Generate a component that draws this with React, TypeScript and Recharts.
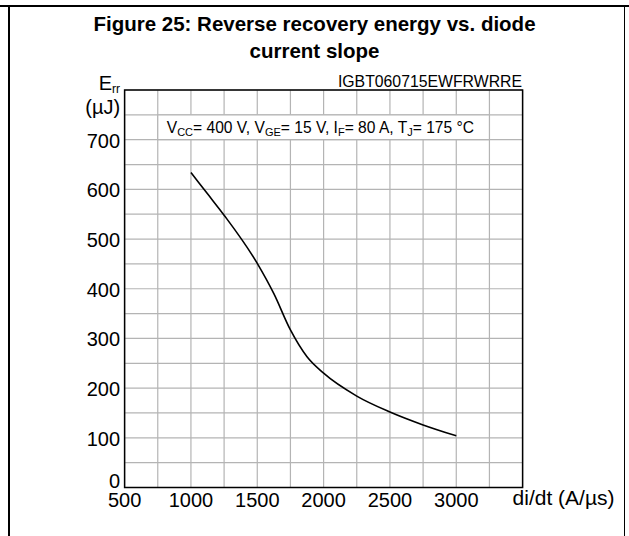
import { LineChart, Line, XAxis, YAxis, CartesianGrid, ReferenceArea } from 'recharts';

// di/dt (A/µs) and Err (µJ)
const diDt = [1000, 1125, 1250, 1500, 1625, 1750, 1875, 2000, 2250, 2500, 2750, 3000];
const eRr = [634, 591, 548, 451, 390, 317, 263, 230, 184, 152, 126, 104];

const xTicks = [500, 750, 1000, 1250, 1500, 1750, 2000, 2250, 2500, 2750, 3000, 3250, 3500];
const yTicks = [0, 50, 100, 150, 200, 250, 300, 350, 400, 450, 500, 550, 600, 650, 700, 750, 800];
const xLabels = [500, 1000, 1500, 2000, 2500, 3000];
const yLabels = [0, 100, 200, 300, 400, 500, 600, 700];

const FONT = '"Liberation Sans", Arial, Helvetica, sans-serif';
const GRID = '#b4b4b4';

const data = diDt.map((d, i) => ({ d, e: eRr[i] }));

function XTick(props: any) {
  const { x, y, payload } = props;
  const v = payload.value;
  if (v === 3500) {
    return (
      <text x={x - 10} y={y + 2} textAnchor="start" dominantBaseline="central" fontSize={21} fontFamily={FONT} fill="#000">
        di/dt (A/µs)
      </text>
    );
  }
  if (!xLabels.includes(v)) return <g />;
  return (
    <text x={x} y={y + 4} textAnchor="middle" dominantBaseline="central" fontSize={20} fontFamily={FONT} fill="#000">
      {v}
    </text>
  );
}

function YTick(props: any) {
  const { x, y, payload } = props;
  const v = payload.value;
  if (v === 800) {
    return (
      <g fontFamily={FONT} fill="#000">
        <text x={x + 3.5} y={y} textAnchor="end" fontSize={20}>
          E<tspan fontSize={12} dy={3}>rr</tspan>
        </text>
        <text x={x + 3.5} y={y + 17} textAnchor="end" dominantBaseline="central" fontSize={20}>
          (µJ)
        </text>
      </g>
    );
  }
  if (!yLabels.includes(v)) return <g />;
  return (
    <text x={x + 3.5} y={v === 0 ? y - 7 : y + 1} textAnchor="end" dominantBaseline="central" fontSize={20} fontFamily={FONT} fill="#000">
      {v}
    </text>
  );
}

function Note(props: any) {
  const { x, y, height } = props.viewBox;
  return (
    <text x={x + 9} y={y + height / 2 + 5.5} fontSize={15.6} fontFamily={FONT} fill="#000">
      V<tspan fontSize={11} dy={3}>CC</tspan>
      <tspan dy={-3}>= 400 V, V</tspan>
      <tspan fontSize={11} dy={3}>GE</tspan>
      <tspan dy={-3}>= 15 V, I</tspan>
      <tspan fontSize={11} dy={3}>F</tspan>
      <tspan dy={-3}>= 80 A, T</tspan>
      <tspan fontSize={11} dy={3}>J</tspan>
      <tspan dy={-3}>= 175 °C</tspan>
    </text>
  );
}

export default function App() {
  return (
    <div style={{ position: 'absolute', left: 0, top: 0, width: 629, height: 536, background: '#fff', overflow: 'hidden' }}>
      {/* page frame */}
      <div style={{ position: 'absolute', left: 0, top: 5, width: 629, height: 1.5, background: '#000' }} />
      <div style={{ position: 'absolute', left: 8, top: 5, width: 2, height: 531, background: '#000' }} />
      <div style={{ position: 'absolute', left: 623.5, top: 5, width: 1.5, height: 531, background: '#000' }} />

      <div style={{ position: 'absolute', left: 0, top: 9.5, width: 629, textAlign: 'center', fontFamily: FONT, fontWeight: 'bold', fontSize: 20.5, lineHeight: '27px', color: '#000' }}>
        Figure 25: Reverse recovery energy vs. diode
        <br />
        current slope
      </div>

      <LineChart width={629} height={536} data={data} margin={{ top: 90, right: 106.4, bottom: 0, left: 0 }} style={{ position: 'absolute', left: 0, top: 0 }}>
        <CartesianGrid stroke={GRID} strokeWidth={1.2} />
        <XAxis dataKey="d" type="number" domain={[500, 3500]} ticks={xTicks} interval={0} height={48.5} axisLine={false} tickLine={false} tick={<XTick />} />
        <YAxis type="number" domain={[0, 800]} ticks={yTicks} interval={0} width={124.6} axisLine={false} tickLine={false} tick={<YTick />} />
        <ReferenceArea x1={750} x2={3250} y1={700} y2={750} fill="#fff" fillOpacity={1} stroke={GRID} strokeWidth={1.2} label={Note} />
        <Line type="monotone" dataKey="e" stroke="#000" strokeWidth={1.6} dot={false} isAnimationActive={false} />
        <ReferenceArea x1={500} x2={3500} y1={0} y2={800} fill="none" fillOpacity={0} stroke="#000" strokeWidth={1.5} />
      </LineChart>

      <div style={{ position: 'absolute', right: 629 - 522, top: 73, fontFamily: FONT, fontSize: 15.8, lineHeight: '18px', color: '#000', whiteSpace: 'nowrap' }}>
        IGBT060715EWFRWRRE
      </div>
    </div>
  );
}
